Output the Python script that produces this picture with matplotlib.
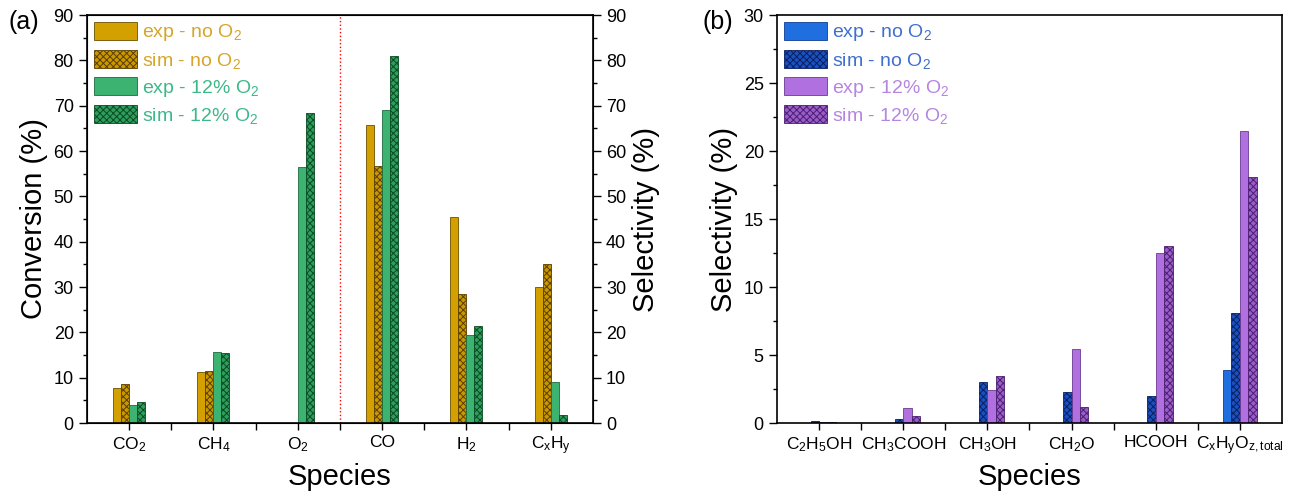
import numpy as np
import matplotlib
matplotlib.use('Agg')
from matplotlib import pyplot as plt
from matplotlib.patches import Patch
from matplotlib.ticker import MultipleLocator

plt.rcParams['font.family'] = ['Liberation Sans', 'DejaVu Sans']
plt.rcParams['mathtext.fontset'] = 'custom'
plt.rcParams['mathtext.rm'] = 'Liberation Sans'
plt.rcParams['mathtext.it'] = 'Liberation Sans:italic'
plt.rcParams['mathtext.default'] = 'regular'
plt.rcParams['hatch.linewidth'] = 0.7

#data panel (a)
species_a = ['CO$_2$', 'CH$_4$', 'O$_2$', 'CO', 'H$_2$', 'C$_x$H$_y$']
exp_no_a = [7.7, 11.2, 0, 65.7, 45.5, 30.0]
sim_no_a = [8.5, 11.4, 0, 56.8, 28.5, 35.0]
exp_12_a = [4.0, 15.7, 56.5, 69.0, 19.5, 9.0]
sim_12_a = [4.6, 15.4, 68.4, 81.0, 21.5, 1.7]

#data panel (b)
species_b = ['C$_2$H$_5$OH', 'CH$_3$COOH', 'CH$_3$OH', 'CH$_2$O', 'HCOOH', 'C$_x$H$_y$O$_{z,total}$']
exp_no_b = [0, 0, 0, 0, 0, 3.9]
sim_no_b = [0.18, 0.33, 2.98, 2.25, 1.98, 8.1]
exp_12_b = [0.07, 1.07, 2.42, 5.45, 12.5, 21.5]
sim_12_b = [0.07, 0.53, 3.42, 1.15, 13.0, 18.1]

labels = ['exp - no O$_2$', 'sim - no O$_2$', 'exp - 12% O$_2$', 'sim - 12% O$_2$']

# (face, edge/hatch, hatch, text colour)
style_a = [('#D4A000', '#6B5000', '', '#D6A52A'),
           ('#C99800', '#5A3E00', 'xxxxx', '#D6A52A'),
           ('#3CB371', '#1F6B40', '', '#3DB88A'),
           ('#2E9E5E', '#0A4A22', 'xxxxx', '#3DB88A')]
style_b = [('#1F6FE0', '#103E90', '', '#3F6FCF'),
           ('#1A50C0', '#0A1F60', 'xxxxx', '#3F6FCF'),
           ('#B070E0', '#6A3A90', '', '#B585E0'),
           ('#9A5CC8', '#4A1F70', 'xxxxx', '#B585E0')]


def draw_panel(ax, names, series, styles, w):
    x = np.arange(1, len(names) + 1)
    for i, (vals, st) in enumerate(zip(series, styles)):
        ax.bar(x + (i - 1.5) * w, vals, w, color=st[0], edgecolor=st[1],
               hatch=st[2], linewidth=0.6)
    ax.set_xlim(0.5, len(names) + 0.5)
    ax.set_xticks(x)
    ax.set_xticklabels(names, fontsize=12.5)
    ax.set_xticks(x[:-1] + 0.5, minor=True)
    ax.tick_params(axis='x', which='both', direction='out', length=5, width=1)
    ax.set_xlabel('Species', fontsize=21)
    handles = [Patch(facecolor=st[0], edgecolor=st[1], hatch=st[2], linewidth=0.6) for st in styles]
    leg = ax.legend(handles, labels, loc='upper left', frameon=False, fontsize=14,
                    handlelength=2.2, handleheight=1.05, labelspacing=0.33,
                    handletextpad=0.3, borderaxespad=0.15, borderpad=0.2)
    for t, st in zip(leg.get_texts(), styles):
        t.set_color(st[3])
    for s in ax.spines.values():
        s.set_linewidth(1.2)


def style_y(ax, lo, hi, major, minor):
    ax.set_ylim(lo, hi)
    ax.yaxis.set_major_locator(MultipleLocator(major))
    ax.yaxis.set_minor_locator(MultipleLocator(minor))
    ax.tick_params(axis='y', which='both', direction='out', labelsize=13, width=1)
    ax.tick_params(axis='y', which='major', length=6)
    ax.tick_params(axis='y', which='minor', length=3)


fig = plt.figure(figsize=(12.96, 4.99), dpi=100)
ax1 = fig.add_axes([0.0671, 0.1523, 0.3904, 0.8176])
ax2 = fig.add_axes([0.5995, 0.1523, 0.3897, 0.8176])

draw_panel(ax1, species_a, [exp_no_a, sim_no_a, exp_12_a, sim_12_a], style_a, 0.095)
style_y(ax1, 0, 90, 10, 5)
ax1.set_ylabel('Conversion (%)', fontsize=21, labelpad=4)
ax1.axvline(3.5, color='red', linestyle=':', linewidth=1)

ax1r = ax1.twinx()
style_y(ax1r, 0, 90, 10, 5)
ax1r.set_ylabel('Selectivity (%)', fontsize=21, labelpad=4)

draw_panel(ax2, species_b, [exp_no_b, sim_no_b, exp_12_b, sim_12_b], style_b, 0.1)
style_y(ax2, 0, 30, 5, 2.5)
ax2.set_ylabel('Selectivity (%)', fontsize=21, labelpad=4)

fig.text(8 / 1296, 1 - 22 / 499, '(a)', fontsize=18, va='center', ha='left')
fig.text(703 / 1296, 1 - 22 / 499, '(b)', fontsize=18, va='center', ha='left')

fig.savefig('out.png', dpi=100)
